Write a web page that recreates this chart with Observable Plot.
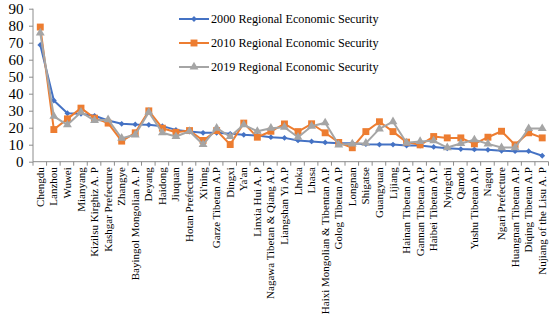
<!DOCTYPE html>
<html><head><meta charset="utf-8">
<script src="https://cdn.jsdelivr.net/npm/d3@7"></script>
<script src="https://cdn.jsdelivr.net/npm/@observablehq/plot@0.6"></script>
<style>
body{margin:0;background:#fff;}
#wrap{position:relative;width:550px;height:320px;font-family:"Liberation Serif","Times New Roman",serif;}
#wrap svg.plot{position:absolute;left:0;top:0;}
#legend{position:absolute;left:179px;top:7px;font-size:12.2px;color:#000;line-height:1;}
.row{display:flex;align-items:center;height:24px;white-space:nowrap;}
.row svg{margin-right:2px;}
</style></head><body><div id="wrap"><div id="legend"></div></div>
<script>
const regions = ["Chengdu","Lanzhou","Wuwei","Mianyang","Kizilsu Kirghiz A. P","Kashgar Prefecture","Zhangye","Bayingol Mongolian A. P","Deyang","Haidong","Jiuquan","Hotan Prefecture","Xi'ning","Garze Tibetan A.P","Dingxi","Ya'an","Linxia Hui A. P","Nagawa Tibetan & Qiang A.P","Liangshan Yi A.P","Lhoka","Lhasa","Haixi Mongolian & Tibentan A.P","Golog Tibetan A.P","Longnan","Shigatse","Guangyuan","Lijiang","Hainan Tibetan A.P","Gannan Tibetan A.P","Haibei Tibetan A.P","Nyingchi","Qamdo","Yushu Tibetan A.P","Nagqu","Ngari Prefecture","Huangnan Tibetan A.P","Diqing Tibetan A.P","Nujiang of the Lisu A. P"];
const s2000 = [69,36.3,28.8,28.5,27.3,24.5,22.6,22.2,22,21.2,19,18,17.3,17.3,16.7,16.1,15.7,14.7,14.3,12.8,12.2,11.6,11.2,11.2,10.6,10.4,10.4,9.8,9.8,9,8.2,7.7,7.5,7.3,6.7,6.5,6.5,3.8];
const s2010 = [79.5,19.2,25.5,31.8,25.9,23,12.4,17.3,30.2,20,17.6,18.6,12.8,18.6,10.4,23,14.7,18.2,22.5,18,22.6,17.3,11.6,8.5,18,23.8,18,11.8,10.2,15.1,14.3,14.3,10.8,14.7,18.2,10.2,17.3,14.3];
const s2019 = [76,27,22,29.4,24.5,25,14.1,16.1,29.4,17.3,15.1,18.2,10.4,20,15.1,22,18.2,20,20.6,14.7,21.2,23.2,10.2,10.8,11.2,19.6,23.8,11.4,12.2,12.6,8.6,11,13.2,10.8,8.6,8.6,19.8,19.8];
const seriesNames = ["2000 Regional Economic Security","2010 Regional Economic Security","2019 Regional Economic Security"];
const seriesValues = [s2000, s2010, s2019];
const colors = ["#4472C4","#ED7D31","#A5A5A5"];
const symbols = ["diamond2","square","triangle"];
const radii = [2.6, 3.9, 3.3];
const yTicks = [0,10,20,30,40,50,60,70,80,90];

const data = seriesNames.map((name, k) => regions.map((r, i) => ({region: r, series: name, value: seriesValues[k][i]})));

const marks = [
  Plot.axisY({ticks: yTicks, tickSize: 4, tickPadding: 6, fontSize: 15, label: null, stroke: "#8c8c8c"}),
  Plot.axisX({tickRotate: -90, tickSize: 0, tickPadding: 5, label: null, fontSize: 11})
];
data.forEach((d, k) => {
  marks.push(Plot.lineY(d, {x: "region", y: "value", stroke: colors[k], strokeWidth: 2}));
  marks.push(Plot.dot(d, {x: "region", y: "value", fill: colors[k], symbol: symbols[k], r: radii[k], stroke: "none"}));
});

const chart = Plot.plot({
  width: 550, height: 320,
  marginLeft: 33, marginRight: 1.5, marginTop: 8.7, marginBottom: 158.3,
  style: {fontFamily: '"Liberation Serif","Times New Roman",serif', color: "#000", background: "transparent", overflow: "visible"},
  x: {type: "point", domain: regions, padding: 0.5, round: false, label: null},
  y: {domain: [0, 90], label: null},
  marks
});

// axis lines and between-category ticks from the plot's own scales
const xs = chart.scale("x"), ys = chart.scale("y");
const step = xs.apply(regions[1]) - xs.apply(regions[0]);
const x0 = xs.apply(regions[0]) - step / 2;
const xEnd = xs.apply(regions[regions.length - 1]) + step / 2;
const yBase = ys.apply(0), yTop = ys.apply(90);
const g = d3.select(chart).insert("g", ":first-child").attr("stroke", "#8c8c8c").attr("stroke-width", 1);
g.append("line").attr("x1", x0).attr("x2", x0).attr("y1", yTop).attr("y2", yBase);
g.append("line").attr("x1", x0).attr("x2", xEnd).attr("y1", yBase).attr("y2", yBase);
regions.forEach((r, i) => {
  const x = x0 + step * (i + 1);
  g.append("line").attr("x1", x).attr("x2", x).attr("y1", yBase).attr("y2", yBase + 4);
});
g.append("line").attr("x1", x0).attr("x2", x0).attr("y1", yBase).attr("y2", yBase + 4);

const wrap = document.getElementById("wrap");
wrap.insertBefore(chart, wrap.firstChild);

// legend
const legend = d3.select("#legend");
seriesNames.forEach((name, k) => {
  const row = legend.append("div").attr("class", "row");
  const sw = row.append("svg").attr("width", 30).attr("height", 12);
  sw.append("line").attr("x1", 0).attr("x2", 30).attr("y1", 6).attr("y2", 6).attr("stroke", colors[k]).attr("stroke-width", 2);
  const sym = {diamond2: d3.symbolDiamond2, square: d3.symbolSquare, triangle: d3.symbolTriangle}[symbols[k]];
  sw.append("path").attr("transform", "translate(15,6)").attr("d", d3.symbol(sym, Math.PI * radii[k] * radii[k])()).attr("fill", colors[k]);
  row.append("span").text(name);
});
</script></body></html>
